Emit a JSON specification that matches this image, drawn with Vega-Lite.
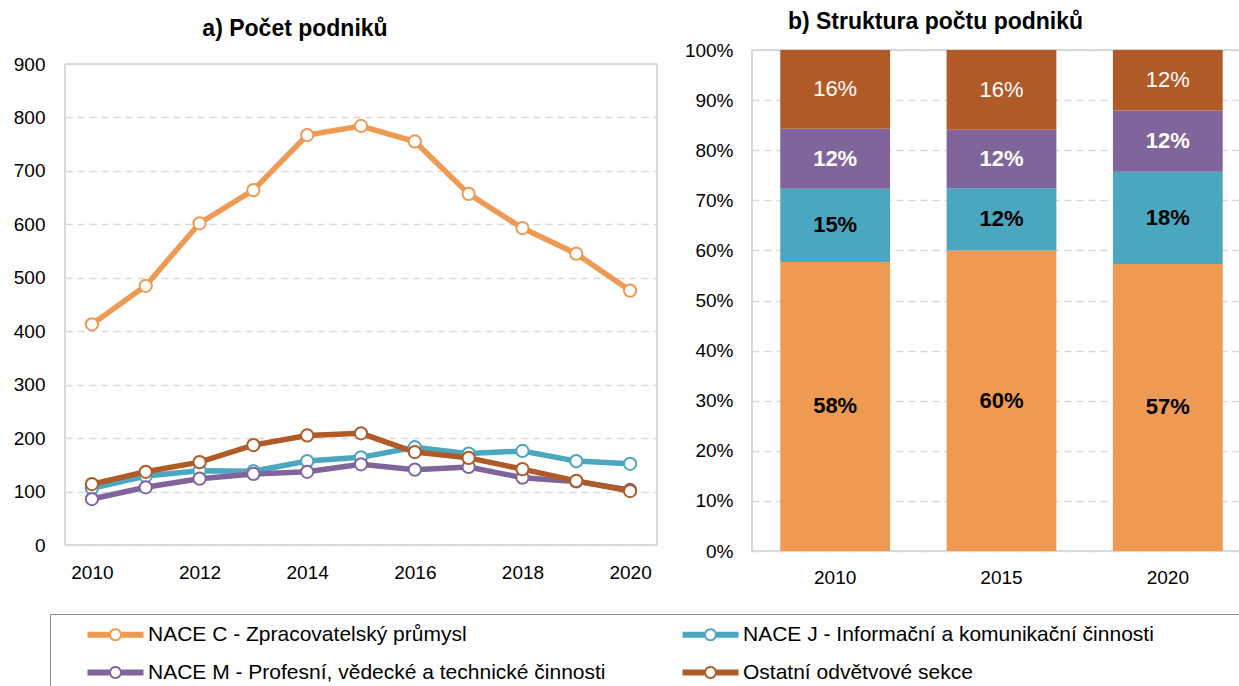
{
  "$schema": "https://vega.github.io/schema/vega-lite/v6.json",
  "padding": {"left": 13, "top": 10, "right": 0, "bottom": 0},
  "background": "white",
  "config": {
    "font": "Liberation Sans",
    "view": {"stroke": "#d9d9d9", "strokeWidth": 2},
    "axis": {"labelFontSize": 19, "labelColor": "#000000", "labelFont": "Liberation Sans", "ticks": false, "domain": false, "gridColor": "#d9d9d9", "gridDash": [7, 5], "gridWidth": 1.5},
    "title": {"fontSize": 23, "fontWeight": "bold", "color": "#000000", "anchor": "middle", "font": "Liberation Sans"}
  },
  "datasets": {
    "lines": [
      {"year": 2010, "sector": "NACE C - Zpracovatelský průmysl", "value": 413},
      {"year": 2011, "sector": "NACE C - Zpracovatelský průmysl", "value": 485},
      {"year": 2012, "sector": "NACE C - Zpracovatelský průmysl", "value": 602},
      {"year": 2013, "sector": "NACE C - Zpracovatelský průmysl", "value": 664},
      {"year": 2014, "sector": "NACE C - Zpracovatelský průmysl", "value": 767},
      {"year": 2015, "sector": "NACE C - Zpracovatelský průmysl", "value": 784},
      {"year": 2016, "sector": "NACE C - Zpracovatelský průmysl", "value": 755},
      {"year": 2017, "sector": "NACE C - Zpracovatelský průmysl", "value": 657},
      {"year": 2018, "sector": "NACE C - Zpracovatelský průmysl", "value": 593},
      {"year": 2019, "sector": "NACE C - Zpracovatelský průmysl", "value": 545},
      {"year": 2020, "sector": "NACE C - Zpracovatelský průmysl", "value": 476},
      {"year": 2010, "sector": "NACE J - Informační a komunikační činnosti", "value": 106},
      {"year": 2011, "sector": "NACE J - Informační a komunikační činnosti", "value": 129},
      {"year": 2012, "sector": "NACE J - Informační a komunikační činnosti", "value": 139},
      {"year": 2013, "sector": "NACE J - Informační a komunikační činnosti", "value": 138},
      {"year": 2014, "sector": "NACE J - Informační a komunikační činnosti", "value": 157},
      {"year": 2015, "sector": "NACE J - Informační a komunikační činnosti", "value": 164},
      {"year": 2016, "sector": "NACE J - Informační a komunikační činnosti", "value": 183},
      {"year": 2017, "sector": "NACE J - Informační a komunikační činnosti", "value": 171},
      {"year": 2018, "sector": "NACE J - Informační a komunikační činnosti", "value": 176},
      {"year": 2019, "sector": "NACE J - Informační a komunikační činnosti", "value": 157},
      {"year": 2020, "sector": "NACE J - Informační a komunikační činnosti", "value": 152},
      {"year": 2010, "sector": "NACE M - Profesní, vědecké a technické činnosti", "value": 86},
      {"year": 2011, "sector": "NACE M - Profesní, vědecké a technické činnosti", "value": 108},
      {"year": 2012, "sector": "NACE M - Profesní, vědecké a technické činnosti", "value": 124},
      {"year": 2013, "sector": "NACE M - Profesní, vědecké a technické činnosti", "value": 133},
      {"year": 2014, "sector": "NACE M - Profesní, vědecké a technické činnosti", "value": 137},
      {"year": 2015, "sector": "NACE M - Profesní, vědecké a technické činnosti", "value": 151},
      {"year": 2016, "sector": "NACE M - Profesní, vědecké a technické činnosti", "value": 141},
      {"year": 2017, "sector": "NACE M - Profesní, vědecké a technické činnosti", "value": 146},
      {"year": 2018, "sector": "NACE M - Profesní, vědecké a technické činnosti", "value": 126},
      {"year": 2019, "sector": "NACE M - Profesní, vědecké a technické činnosti", "value": 119},
      {"year": 2020, "sector": "NACE M - Profesní, vědecké a technické činnosti", "value": 103},
      {"year": 2010, "sector": "Ostatní odvětvové sekce", "value": 114},
      {"year": 2011, "sector": "Ostatní odvětvové sekce", "value": 137},
      {"year": 2012, "sector": "Ostatní odvětvové sekce", "value": 155},
      {"year": 2013, "sector": "Ostatní odvětvové sekce", "value": 187},
      {"year": 2014, "sector": "Ostatní odvětvové sekce", "value": 205},
      {"year": 2015, "sector": "Ostatní odvětvové sekce", "value": 209},
      {"year": 2016, "sector": "Ostatní odvětvové sekce", "value": 174},
      {"year": 2017, "sector": "Ostatní odvětvové sekce", "value": 163},
      {"year": 2018, "sector": "Ostatní odvětvové sekce", "value": 142},
      {"year": 2019, "sector": "Ostatní odvětvové sekce", "value": 120},
      {"year": 2020, "sector": "Ostatní odvětvové sekce", "value": 101}
    ],
    "bars": [
      {"year": "2010", "sector": "NACE C - Zpracovatelský průmysl", "share": 0.577},
      {"year": "2010", "sector": "NACE J - Informační a komunikační činnosti", "share": 0.146},
      {"year": "2010", "sector": "NACE M - Profesní, vědecké a technické činnosti", "share": 0.12},
      {"year": "2010", "sector": "Ostatní odvětvové sekce", "share": 0.157},
      {"year": "2015", "sector": "NACE C - Zpracovatelský průmysl", "share": 0.6},
      {"year": "2015", "sector": "NACE J - Informační a komunikační činnosti", "share": 0.124},
      {"year": "2015", "sector": "NACE M - Profesní, vědecké a technické činnosti", "share": 0.117},
      {"year": "2015", "sector": "Ostatní odvětvové sekce", "share": 0.159},
      {"year": "2020", "sector": "NACE C - Zpracovatelský průmysl", "share": 0.573},
      {"year": "2020", "sector": "NACE J - Informační a komunikační činnosti", "share": 0.184},
      {"year": "2020", "sector": "NACE M - Profesní, vědecké a technické činnosti", "share": 0.122},
      {"year": "2020", "sector": "Ostatní odvětvové sekce", "share": 0.121}
    ],
    "one": [{}]
  },
  "spacing": 25,
  "hconcat": [
    {
      "width": 592,
      "height": 495,
      "view": {"stroke": null},
      "title": {"text": "a) Počet podniků", "offset": 9, "dx": -66},
      "layer": [
        {
          "data": {"name": "one"},
          "mark": {"type": "rule", "color": "#d9d9d9", "strokeWidth": 2},
          "encoding": {"y": {"datum": 900, "type": "quantitative"}}
        },
        {
          "data": {"name": "one"},
          "mark": {"type": "rule", "color": "#d9d9d9", "strokeWidth": 2},
          "encoding": {"y": {"datum": 0, "type": "quantitative"}}
        },
        {
          "data": {"name": "one"},
          "mark": {"type": "rule", "color": "#d9d9d9", "strokeWidth": 2},
          "encoding": {"x": {"datum": 2009.5, "type": "quantitative"}, "y": {"datum": 0, "type": "quantitative"}, "y2": {"datum": 900}}
        },
        {
          "data": {"name": "one"},
          "mark": {"type": "rule", "color": "#d9d9d9", "strokeWidth": 2},
          "encoding": {"x": {"datum": 2020.5, "type": "quantitative"}, "y": {"datum": 0, "type": "quantitative"}, "y2": {"datum": 900}}
        },
        {
          "data": {"name": "lines"},
          "mark": {"type": "line", "strokeWidth": 5.5},
          "encoding": {
            "x": {"field": "year", "type": "quantitative", "title": null,
                  "scale": {"domain": [2009.5, 2020.5], "nice": false, "zero": false},
                  "axis": {"values": [2010, 2012, 2014, 2016, 2018, 2020], "format": "d", "grid": false, "labelPadding": 18}},
            "y": {"field": "value", "type": "quantitative", "title": null,
                  "scale": {"domain": [0, 926.2], "nice": false},
                  "axis": {"values": [0, 100, 200, 300, 400, 500, 600, 700, 800, 900], "grid": true, "labelPadding": 20}},
            "color": {"field": "sector", "type": "nominal",
                      "scale": {"domain": ["NACE C - Zpracovatelský průmysl", "NACE J - Informační a komunikační činnosti", "NACE M - Profesní, vědecké a technické činnosti", "Ostatní odvětvové sekce"],
                                "range": ["#EF9A52", "#4BA6BF", "#7F659C", "#B05A28"]},
                      "legend": {"title": " ", "titleOrient": "right", "titlePadding": 90, "titleFontSize": 10, "orient": "none", "legendX": -15, "legendY": 564, "direction": "horizontal", "columns": 2, "gridAlign": "all", "columnPadding": 49, "rowPadding": 16,
                                 "labelFontSize": 21, "labelColor": "#000000", "labelFont": "Liberation Sans", "labelOffset": 22, "labelLimit": 700, "symbolOffset": 45,
                                 "symbolType": "M-2.8,-0.3H-0.62V0.3H-2.8Z M0.62,-0.3H2.8V0.3H0.62Z M0,-0.65A0.65,0.65 0 1,1 0,0.65A0.65,0.65 0 1,1 0,-0.65Z M0,-0.45A0.45,0.45 0 1,0 0,0.45A0.45,0.45 0 1,0 0,-0.45Z",
                                 "symbolSize": 400, "symbolStrokeWidth": 0, "strokeColor": "#8c8c8c", "padding": 10,
                                 "encode": {"symbols": {"update": {"fill": {"scale": "color", "field": "value"}, "stroke": {"value": "transparent"}, "opacity": {"value": 1}, "fillOpacity": {"value": 1}}}}}}
          }
        },
        {
          "data": {"name": "lines"},
          "mark": {"type": "point", "filled": false, "fill": "white", "fillOpacity": 1, "opacity": 1, "size": 150, "strokeWidth": 2},
          "encoding": {
            "x": {"field": "year", "type": "quantitative"},
            "y": {"field": "value", "type": "quantitative"},
            "color": {"field": "sector", "type": "nominal"}
          }
        }
      ]
    },
    {
      "width": 499,
      "height": 501,
      "title": {"text": "b) Struktura počtu podniků", "offset": 7, "dx": -66},
      "data": {"name": "bars"},
      "encoding": {
        "x": {"field": "year", "type": "ordinal", "title": null,
              "scale": {"paddingInner": 0.34, "paddingOuter": 0.17},
              "axis": {"labelAngle": 0, "labelPadding": 17}}
      },
      "layer": [
        {
          "mark": {"type": "bar"},
          "encoding": {
            "y": {"field": "share", "type": "quantitative", "stack": "normalize", "title": null,
                  "scale": {"domain": [0, 1]},
                  "axis": {"format": ".0%", "values": [0, 0.1, 0.2, 0.3, 0.4, 0.5, 0.6, 0.7, 0.8, 0.9, 1], "grid": true, "labelPadding": 19}},
            "color": {"field": "sector", "type": "nominal",
                      "legend": {"title": " ", "titleOrient": "right", "titlePadding": 90, "titleFontSize": 10, "orient": "none", "legendX": -15, "legendY": 564, "direction": "horizontal", "columns": 2, "gridAlign": "all", "columnPadding": 49, "rowPadding": 16,
                                 "labelFontSize": 21, "labelColor": "#000000", "labelFont": "Liberation Sans", "labelOffset": 22, "labelLimit": 700, "symbolOffset": 45,
                                 "symbolType": "M-2.8,-0.3H-0.62V0.3H-2.8Z M0.62,-0.3H2.8V0.3H0.62Z M0,-0.65A0.65,0.65 0 1,1 0,0.65A0.65,0.65 0 1,1 0,-0.65Z M0,-0.45A0.45,0.45 0 1,0 0,0.45A0.45,0.45 0 1,0 0,-0.45Z",
                                 "symbolSize": 400, "symbolStrokeWidth": 0, "strokeColor": "#8c8c8c", "padding": 10,
                                 "encode": {"symbols": {"update": {"fill": {"scale": "color", "field": "value"}, "stroke": {"value": "transparent"}, "opacity": {"value": 1}, "fillOpacity": {"value": 1}}}}}},
            "order": {"field": "sector"}
          }
        },
        {
          "mark": {"type": "text", "fontSize": 22, "fontWeight": "bold", "font": "Liberation Sans"},
          "encoding": {
            "y": {"field": "share", "type": "quantitative", "stack": "normalize", "bandPosition": 0.5},
            "detail": {"field": "sector"},
            "order": {"field": "sector"},
            "text": {"condition": {"test": "datum.sector !== 'Ostatní odvětvové sekce'", "field": "share", "type": "quantitative", "format": ".0%"}, "value": ""},
            "color": {"condition": {"test": "datum.sector === 'NACE M - Profesní, vědecké a technické činnosti'", "value": "white"}, "value": "black"}
          }
        },
        {
          "mark": {"type": "text", "fontSize": 22, "fontWeight": "normal", "font": "Liberation Sans", "color": "white"},
          "encoding": {
            "y": {"field": "share", "type": "quantitative", "stack": "normalize", "bandPosition": 0.5},
            "detail": {"field": "sector"},
            "order": {"field": "sector"},
            "text": {"condition": {"test": "datum.sector === 'Ostatní odvětvové sekce'", "field": "share", "type": "quantitative", "format": ".0%"}, "value": ""}
          }
        }
      ]
    }
  ]
}
